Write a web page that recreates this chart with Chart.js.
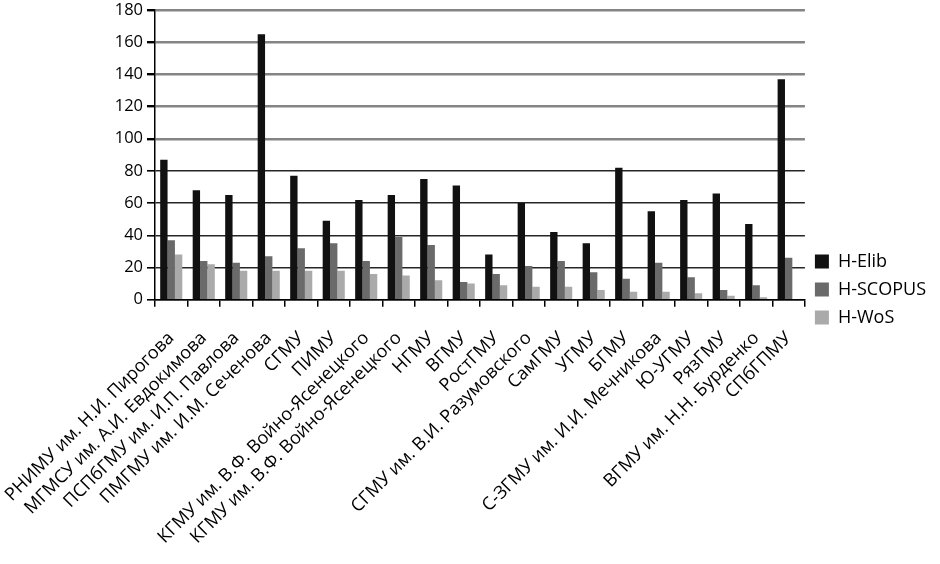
<!DOCTYPE html>
<html>
<head>
<meta charset="utf-8">
<script src="https://cdn.jsdelivr.net/npm/chart.js@4.4.1/dist/chart.umd.min.js"></script>
<style>
  html, body { margin: 0; padding: 0; background: #fff; }
  #wrap { width: 940px; height: 564px; }
</style>
</head>
<body>
<div id="wrap"><canvas id="hChart" width="940" height="564"></canvas></div>
<script>
var universities = [
    'РНИМУ им. Н.И. Пирогова',
    'МГМСУ им. А.И. Евдокимова',
    'ПСПбГМУ им. И.П. Павлова',
    'ПМГМУ им. И.М. Сеченова',
    'СГМУ',
    'ПИМУ',
    'КГМУ им. В.Ф. Войно-Ясенецкого',
    'КГМУ им. В.Ф. Войно-Ясенецкого',
    'НГМУ',
    'ВГМУ',
    'РостГМУ',
    'СГМУ им. В.И. Разумовского',
    'СамГМУ',
    'УГМУ',
    'БГМУ',
    'С-ЗГМУ им. И.И. Мечникова',
    'Ю-УГМУ',
    'РязГМУ',
    'ВГМУ им. Н.Н. Бурденко',
    'СПбГПМУ'
];

var hElib   = [87, 68, 65, 165, 77, 49, 62, 65, 75, 71, 28, 60, 42, 35, 82, 55, 62, 66, 47, 137];
var hScopus = [37, 24, 23, 27, 32, 35, 24, 39, 34, 11, 16, 21, 24, 17, 13, 23, 14, 6, 9, 26];
var hWos    = [28, 22, 18, 18, 18, 18, 16, 15, 12, 10, 9, 8, 8, 6, 5, 5, 4, 2.5, 1.5, 0];

var yTicks = [0, 20, 40, 60, 80, 100, 120, 140, 160, 180];

var fontFamily = '"Open Sans", "DejaVu Sans", sans-serif';

var ctx = document.getElementById('hChart').getContext('2d');

var hChart = new Chart(ctx, {
    type: 'bar',
    data: {
        labels: universities,
        datasets: [
            { label: 'H-Elib', data: hElib, backgroundColor: '#111111' },
            { label: 'H-SCOPUS', data: hScopus, backgroundColor: '#6a6a6a' },
            { label: 'H-WoS', data: hWos, backgroundColor: '#aaaaaa' }
        ]
    },
    options: {
        responsive: false,
        animation: false,
        layout: { padding: { top: 10, right: 4, left: 0, bottom: -5 } },
        datasets: {
            bar: { categoryPercentage: 0.68, barPercentage: 1.0 }
        },
        scales: {
            x: {
                // long rotated labels may run to the left edge, like in the original
                afterFit: function (scale) {
                    scale.paddingLeft = 0;
                    scale.paddingRight = 0;
                },
                grid: {
                    drawOnChartArea: false,
                    color: '#000',
                    tickLength: 7,
                    lineWidth: 1.5
                },
                border: { color: '#000', width: 1.5 },
                ticks: {
                    color: '#000',
                    maxRotation: 45,
                    minRotation: 45,
                    autoSkip: false,
                    padding: 21,
                    font: { family: fontFamily, size: 18 }
                }
            },
            y: {
                min: 0,
                max: 180,
                afterBuildTicks: function (axis) {
                    axis.ticks = yTicks.map(function (v) { return { value: v }; });
                },
                afterFit: function (axis) {
                    axis.width = 155;
                    axis.paddingTop = 0;
                    axis.paddingBottom = 0;
                },
                grid: {
                    // the scan shows the lower lines darker than the upper ones
                    color: function (c) { return c.tick && c.tick.value <= 80 ? '#262626' : '#848484'; },
                    lineWidth: function (c) { return c.tick && c.tick.value <= 80 ? 1.6 : 2.4; },
                    tickLength: 8,
                    tickColor: '#000'
                },
                border: { color: '#000', width: 1.5 },
                ticks: {
                    color: '#000',
                    padding: 4,
                    font: { family: fontFamily, size: 16.5 }
                }
            }
        },
        plugins: {
            legend: {
                position: 'right',
                fullSize: true,
                labels: {
                    color: '#000',
                    boxWidth: 14,
                    boxHeight: 14,
                    padding: 10,
                    font: { family: fontFamily, size: 18 }
                }
            },
            tooltip: { enabled: false }
        }
    }
});
</script>
</body>
</html>
